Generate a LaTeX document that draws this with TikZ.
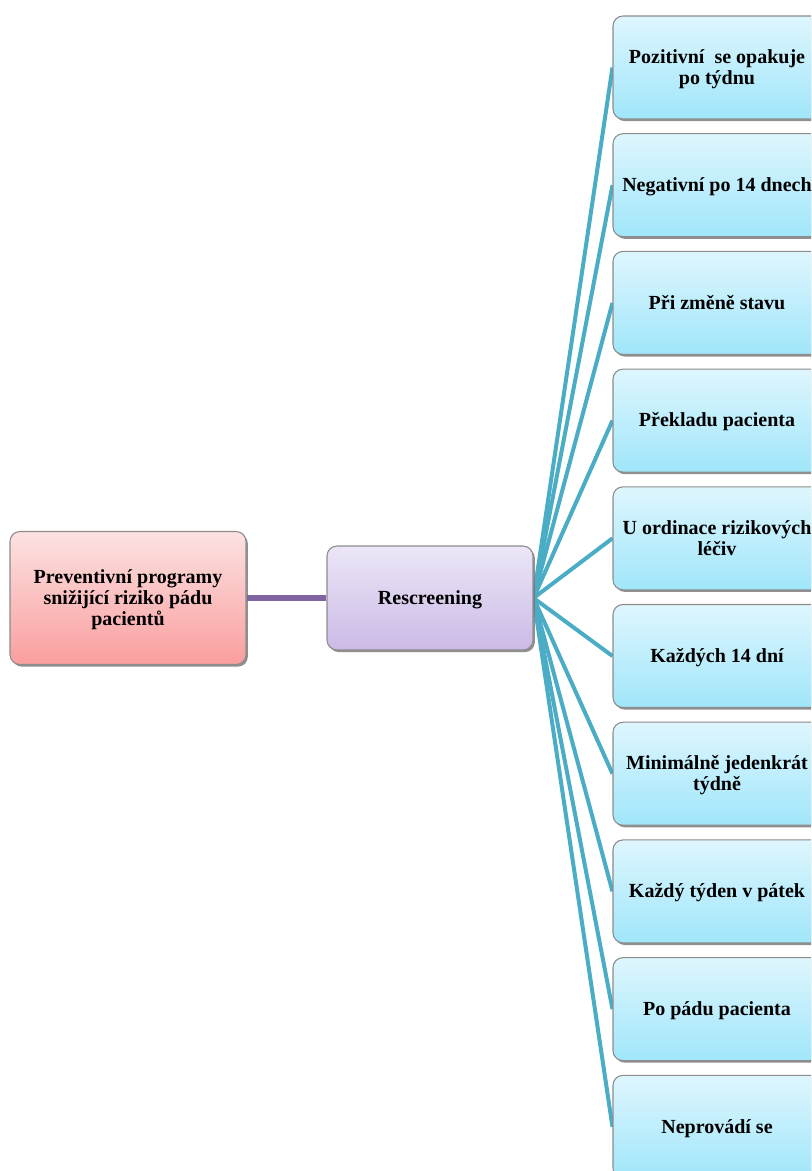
\documentclass[tikz,border=0pt]{standalone}
\usepackage{fontspec}
\setmainfont{Liberation Serif}
\usetikzlibrary{shadows,backgrounds}
\definecolor{pinktop}{RGB}{252,226,226}
\definecolor{pinkbot}{RGB}{250,158,158}
\definecolor{lilactop}{RGB}{236,230,247}
\definecolor{lilacbot}{RGB}{203,186,230}
\definecolor{skytop}{RGB}{222,246,254}
\definecolor{skybot}{RGB}{160,230,250}
\definecolor{boxline}{RGB}{140,140,140}
\definecolor{tealline}{RGB}{75,172,198}
\definecolor{purpleline}{RGB}{128,100,162}
\tikzset{
  card/.style={rectangle, rounded corners=7.5pt, draw=boxline, line width=0.8pt,
    align=center, font=\fontsize{15}{15.75}\selectfont\bfseries, inner sep=2pt,
    text depth=1pt,
    drop shadow={shadow xshift=1.4pt, shadow yshift=-1.6pt, fill=black!55, opacity=0.8}},
  rootbox/.style={card, top color=pinktop, bottom color=pinkbot,
    minimum width=177pt, minimum height=99.75pt},
  hubbox/.style={card, top color=lilactop, bottom color=lilacbot,
    minimum width=154.5pt, minimum height=78pt},
  leafbox/.style={card, top color=skytop, bottom color=skybot,
    minimum width=156pt, minimum height=77.25pt},
  fanline/.style={draw=tealline, line width=3pt},
  rootline/.style={draw=purpleline, line width=3.8pt}
}
\begin{document}
\begin{tikzpicture}[x=0.75pt, y=-0.75pt]
\useasboundingbox (0,0) rectangle (811,1171);
\clip (0,0) rectangle (811,1171);

% main boxes
\node[rootbox] (root) at (128,598) {Preventivní programy\\snižijící riziko pádu\\pacientů};
\node[hubbox] (hub) at (430,598) {Rescreening};

% leaf boxes
\node[leafbox] (l1) at (717,67.5) {Pozitivní \ se opakuje\\po týdnu};
\node[leafbox] (l2) at (717,185.2) {Negativní po 14 dnech};
\node[leafbox] (l3) at (717,302.9) {Při změně stavu};
\node[leafbox] (l4) at (717,420.6) {Překladu pacienta};
\node[leafbox] (l5) at (717,538.3) {U ordinace rizikových\\léčiv};
\node[leafbox] (l6) at (717,656.0) {Každých 14 dní};
\node[leafbox] (l7) at (717,773.7) {Minimálně jedenkrát\\týdně};
\node[leafbox] (l8) at (717,891.4) {Každý týden v pátek};
\node[leafbox] (l9) at (717,1009.1) {Po pádu pacienta};
\node[leafbox] (l10) at (717,1126.8) {Neprovádí se};

% connectors, kept behind the boxes
\begin{scope}[on background layer]
  \draw[rootline] (root.east) -- (hub.west);
  \foreach \i in {1,...,10} {
    \draw[fanline] (hub.east) -- (l\i.west);
  }
\end{scope}
\end{tikzpicture}
\end{document}
